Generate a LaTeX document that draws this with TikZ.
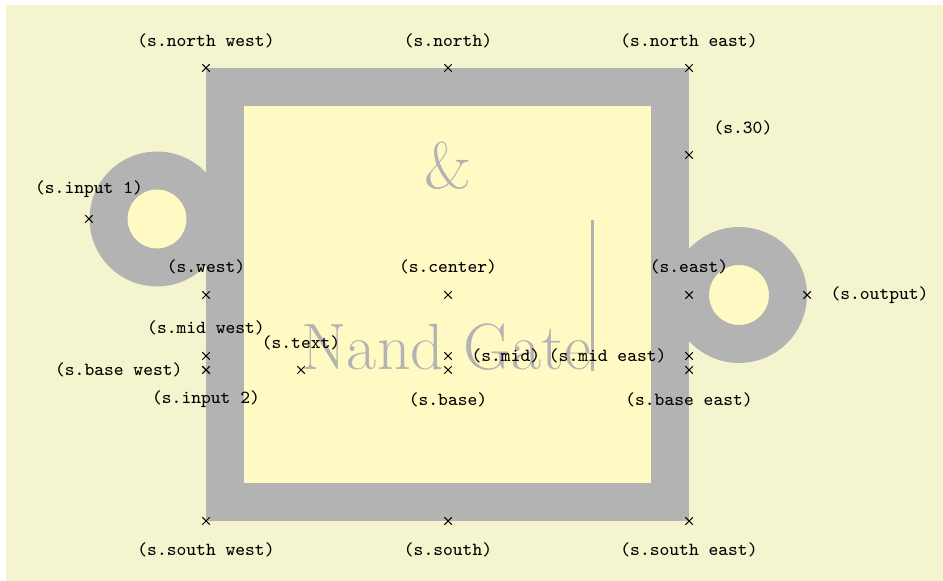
\documentclass[tikz,border=0pt]{standalone}
\usetikzlibrary{calc}
\definecolor{pagebg}{RGB}{244,245,206}
\definecolor{gatefill}{RGB}{255,250,195}
\definecolor{gategray}{RGB}{179,179,179}
\tikzset{
  gateline/.style={draw=gategray, fill=gatefill, line width=14.4pt},
  lbl/.style={font=\ttfamily\scriptsize, inner sep=0pt, text=black},
  bigtext/.style={font=\Huge, text=gategray, inner sep=0pt},
}
\begin{document}
\begin{tikzpicture}[x=0.3794pt, y=-0.3794pt]
\useasboundingbox (0,0) rectangle (943,581);
\fill[white] (0,0) rectangle (943,581);
\fill[pagebg] (6,5) rectangle (943,581);

% anchor coordinates
\coordinate (nw) at (206,68);
\coordinate (n) at (448,68);
\coordinate (ne) at (689,68);
\coordinate (p30) at (689,155);
\coordinate (in1) at (89,219);
\coordinate (w) at (206,295);
\coordinate (c) at (448,295);
\coordinate (e) at (689,295);
\coordinate (out) at (807,295);
\coordinate (mw) at (206,356);
\coordinate (mid) at (448,356);
\coordinate (me) at (689,356);
\coordinate (bw) at (206,370);
\coordinate (txt) at (301,370);
\coordinate (base) at (448,370);
\coordinate (be) at (689,370);
\coordinate (in2) at (206,370);
\coordinate (sw) at (206,521);
\coordinate (s) at (448,521);
\coordinate (se) at (689,521);

% gate body and negation circles
\coordinate (c1) at (157,219);
\coordinate (c2) at (739,295);
\draw[gateline] (c1) circle[radius=18.4pt];
\draw[gateline] (c2) circle[radius=18.59pt];
\draw[gateline] (225,87) rectangle (670,502);

% symbol and text
\node[bigtext, anchor=base] (amp) at (448,188.5) {\&};
\node[bigtext, anchor=base west] (label) at (txt) {Nand Gate\vrule width 1pt height 2cm};

% marks
\draw[black, line width=0.4pt] plot[only marks, mark=x, mark size=2pt] coordinates
  {(nw) (n) (ne) (p30) (in1) (w) (c) (e) (out) (mw) (mid) (me) (bw) (txt) (base) (be) (in2) (sw) (s) (se)};

% labels above
\node[lbl] (lnw) at ($(nw)+(0,-27.5)$) {(s.north west)};
\node[lbl] (ln) at ($(n)+(0,-27.5)$) {(s.north)};
\node[lbl] (lne) at ($(ne)+(0,-27.5)$) {(s.north east)};
\node[lbl] (lin1) at ($(in1)+(0,-29.5)$) {(s.input 1)};
\node[lbl] (lw) at ($(w)+(0,-28)$) {(s.west)};
\node[lbl] (lc) at ($(c)+(0,-28)$) {(s.center)};
\node[lbl] (le) at ($(e)+(0,-28)$) {(s.east)};
\node[lbl] (lmw) at ($(mw)+(0,-28)$) {(s.mid west)};
\node[lbl] (ltxt) at ($(txt)+(0,-27.5)$) {(s.text)};
% label above right
\node[lbl, anchor=west] (l30) at ($(p30)+(24,-27)$) {(s.30)};
% labels below
\node[lbl] (lin2) at ($(in2)+(0,29.5)$) {(s.input 2)};
\node[lbl] (lbase) at ($(base)+(0,29.5)$) {(s.base)};
\node[lbl] (lbe) at ($(be)+(0,29.5)$) {(s.base east)};
\node[lbl] (lsw) at ($(sw)+(0,29)$) {(s.south west)};
\node[lbl] (ls) at ($(s)+(0,29)$) {(s.south)};
\node[lbl] (lse) at ($(se)+(0,29)$) {(s.south east)};
% labels right
\node[lbl, anchor=west] (lout) at ($(out)+(23,0)$) {(s.output)};
\node[lbl, anchor=west] (lmid) at ($(mid)+(23,0)$) {(s.mid)};
% labels left
\node[lbl, anchor=east] (lbw) at ($(bw)+(-23,0)$) {(s.base west)};
\node[lbl, anchor=east] (lme) at ($(me)+(-22,0)$) {(s.mid east)};
\end{tikzpicture}
\end{document}
